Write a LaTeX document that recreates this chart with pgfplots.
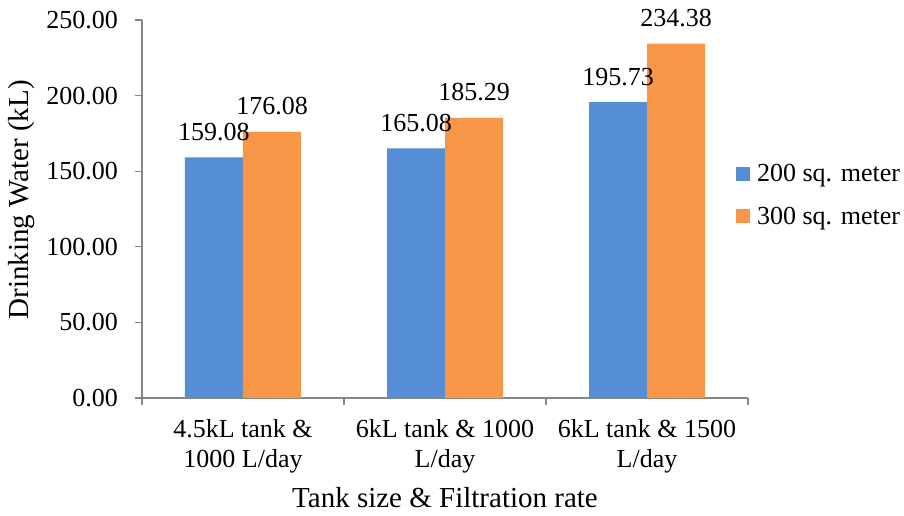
\documentclass[border=0pt]{standalone}
\usepackage{pgfplots}
\pgfplotsset{compat=1.18}
\usepackage{fontspec}
\setmainfont{Liberation Serif}
\definecolor{cblue}{RGB}{85,142,213}
\definecolor{corange}{RGB}{247,150,70}
\definecolor{axgray}{RGB}{134,134,134}
\begin{document}
\begin{tikzpicture}
\newcommand{\bigf}{\fontsize{26}{30}\selectfont}
\newcommand{\labf}{\fontsize{29}{33}\selectfont}
\begin{axis}[
  scale only axis,
  width=606pt, height=378pt,
  ybar=0pt, bar width=58pt,
  xmin=-0.5, xmax=2.5,
  ymin=0, ymax=250,
  xtick={0,1,2},
  xticklabels={{4.5kL tank \&\\1000 L/day},{6kL tank \& 1000\\L/day},{6kL tank \& 1500\\L/day}},
  minor xtick={-0.5,0.5,1.5,2.5},
  ytick={0,50,100,150,200,250},
  axis x line*=bottom, axis y line*=left,
  axis line style={axgray, line width=1.3pt, -},
  tick align=outside,
  major tick length=7pt, minor tick length=7pt,
  every tick/.style={axgray, line width=1.3pt},
  major x tick style={draw=none},
  tick label style={font=\bigf},
  x tick label style={align=center, inner sep=0pt, anchor=north, yshift=-14pt},
  y tick label style={inner sep=0pt, anchor=east, xshift=-17pt},
  /pgf/number format/assume math mode=true,
  yticklabel style={/pgf/number format/.cd, fixed, fixed zerofill, precision=2},
  scaled y ticks=false,
  ylabel={Drinking Water (kL)},
  xlabel={Tank size \& Filtration rate},
  label style={font=\labf},
  ylabel style={at={(axis description cs:0,0.524)}, anchor=center, yshift=120pt},
  xlabel style={at={(axis description cs:0.5,0)}, anchor=base, yshift=-109pt},
  nodes near coords={\pgfmathprintnumber[fixed,fixed zerofill,precision=2,assume math mode=true]{\pgfplotspointmeta}},
  every node near coord/.append style={font=\bigf, black, anchor=base, inner sep=0pt, yshift=17pt},
  legend style={at={(rel axis cs:0.98,0.537)}, anchor=west, draw=none, font=\bigf, row sep=20pt, column sep=5pt, inner sep=0pt, fill=none},
  legend cell align=left,
  legend image code/.code={\fill[#1] (0pt,-7pt) rectangle (14pt,7pt);},
  clip=false,
]
\addplot[fill=cblue, draw=none] coordinates {(0,159.08) (1,165.08) (2,195.73)};
\addplot[fill=corange, draw=none] coordinates {(0,176.08) (1,185.29) (2,234.38)};
\legend{200 sq. meter, 300 sq. meter}
\coordinate (sw) at (rel axis cs:0,0);
\end{axis}
\pgfresetboundingbox
\path (sw) ++(-142pt,-117pt) rectangle ++(904pt,515pt);
\end{tikzpicture}
\end{document}
